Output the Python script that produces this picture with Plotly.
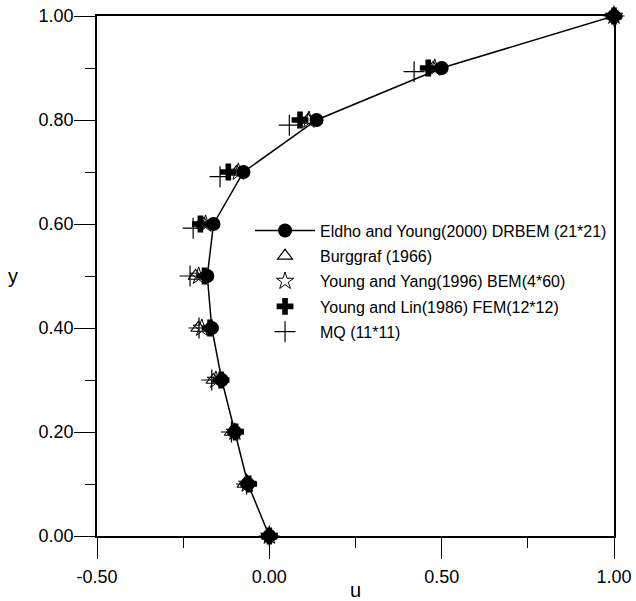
import plotly.graph_objects as go

# Horizontal velocity u along the vertical centreline of the driven cavity
y_levels = [0.0, 0.1, 0.2, 0.3, 0.4, 0.5, 0.6, 0.7, 0.8, 0.9, 1.0]
u_drbem = [0.0, -0.062, -0.100, -0.138, -0.167, -0.180, -0.162, -0.075, 0.137, 0.500, 1.0]
u_burggraf = [0.0, -0.072, -0.109, -0.162, -0.206, -0.214, -0.190, -0.095, 0.112, 0.475, 1.0]
u_bem = [0.0, -0.064, -0.100, -0.155, -0.196, -0.205, -0.185, -0.090, 0.115, 0.480, 1.0]
u_fem = [0.0, -0.060, -0.098, -0.140, -0.172, -0.188, -0.200, -0.119, 0.089, 0.461, 1.0]
y_mq = [0.0, 0.1, 0.2, 0.3, 0.4, 0.5, 0.592, 0.691, 0.790, 0.893, 1.0]
u_mq = [0.0, -0.066, -0.110, -0.167, -0.204, -0.230, -0.221, -0.143, 0.058, 0.420, 1.0]

# Axis tick positions and labels
x_ticks = [-0.5, 0.0, 0.5, 1.0]
x_ticktext = ["-0.50", "0.00", "0.50", "1.00"]
y_ticks = [0.0, 0.2, 0.4, 0.6, 0.8, 1.0]
y_ticktext = ["0.00", "0.20", "0.40", "0.60", "0.80", "1.00"]

names = [
    "Eldho and Young(2000) DRBEM (21*21)",
    "Burggraf (1966)",
    "Young and Yang(1996) BEM(4*60)",
    "Young and Lin(1986) FEM(12*12)",
    "MQ (11*11)",
]

FONT = "Liberation Sans, Arial, Helvetica, sans-serif"
BLACK = "black"

fig = go.Figure()

fig.add_trace(go.Scatter(
    x=u_burggraf, y=y_levels, mode="markers", name=names[1], legendrank=2, legendgroup="b",
    marker=dict(symbol="triangle-up-open", size=13, color=BLACK, line=dict(width=1.2, color=BLACK)),
    cliponaxis=False,
))
fig.add_trace(go.Scatter(
    x=u_bem, y=y_levels, mode="markers", name=names[2], legendrank=3, legendgroup="c",
    marker=dict(symbol="star-open", size=13, color=BLACK, line=dict(width=1, color=BLACK)),
    cliponaxis=False,
))
fig.add_trace(go.Scatter(
    x=u_fem, y=y_levels, mode="markers", name=names[3], legendrank=4, legendgroup="d",
    marker=dict(symbol="cross", size=14, color=BLACK, line=dict(width=0)),
    cliponaxis=False,
))
fig.add_trace(go.Scatter(
    x=u_mq, y=y_mq, mode="markers", name=names[4], legendrank=5, legendgroup="e",
    marker=dict(symbol="cross-thin-open", size=15, color=BLACK, line=dict(width=1.2, color=BLACK)),
    cliponaxis=False,
))
fig.add_trace(go.Scatter(
    x=u_drbem, y=y_levels, mode="lines+markers", name=names[0], legendrank=1, legendgroup="a",
    line=dict(color=BLACK, width=1.5),
    marker=dict(symbol="circle", size=14, color=BLACK),
    cliponaxis=False,
))

axis_common = dict(
    showline=True, linecolor=BLACK, linewidth=1.5, mirror=True,
    showgrid=False, zeroline=False, automargin=False,
    ticks="outside", ticklen=21, tickwidth=1.2, tickcolor=BLACK,
    tickfont=dict(family=FONT, size=18, color=BLACK),
)

fig.update_xaxes(
    range=[-0.5, 1.0], tickmode="array", tickvals=x_ticks, ticktext=x_ticktext,
    ticklabelstandoff=3,
    minor=dict(dtick=0.25, tick0=-0.5, ticklen=10, ticks="outside", tickcolor=BLACK, tickwidth=1.2, showgrid=False),
    **axis_common,
)
fig.update_yaxes(
    range=[0.0, 1.0], tickmode="array", tickvals=y_ticks, ticktext=y_ticktext,
    ticklabelstandoff=-3,
    minor=dict(dtick=0.1, tick0=0.0, ticklen=10, ticks="outside", tickcolor=BLACK, tickwidth=1.2, showgrid=False),
    **axis_common,
)

fig.update_layout(
    width=636, height=601,
    margin=dict(l=97, r=22, t=16, b=65),
    paper_bgcolor="white", plot_bgcolor="white",
    showlegend=True,
    legend=dict(
        x=0.296, y=0.620, xanchor="left", yanchor="top",
        font=dict(family=FONT, size=16, color=BLACK),
        itemwidth=60, tracegroupgap=1.5,
        bgcolor="rgba(0,0,0,0)", borderwidth=0,
    ),
    annotations=[
        dict(text="u", x=0.5, y=-0.103, xref="paper", yref="paper",
             xanchor="center", yanchor="middle", showarrow=False,
             font=dict(family=FONT, size=20, color=BLACK)),
        dict(text="y", x=-0.162, y=0.5, xref="paper", yref="paper",
             xanchor="center", yanchor="middle", showarrow=False,
             font=dict(family=FONT, size=20, color=BLACK)),
    ],
)

fig.write_html("out.html")
